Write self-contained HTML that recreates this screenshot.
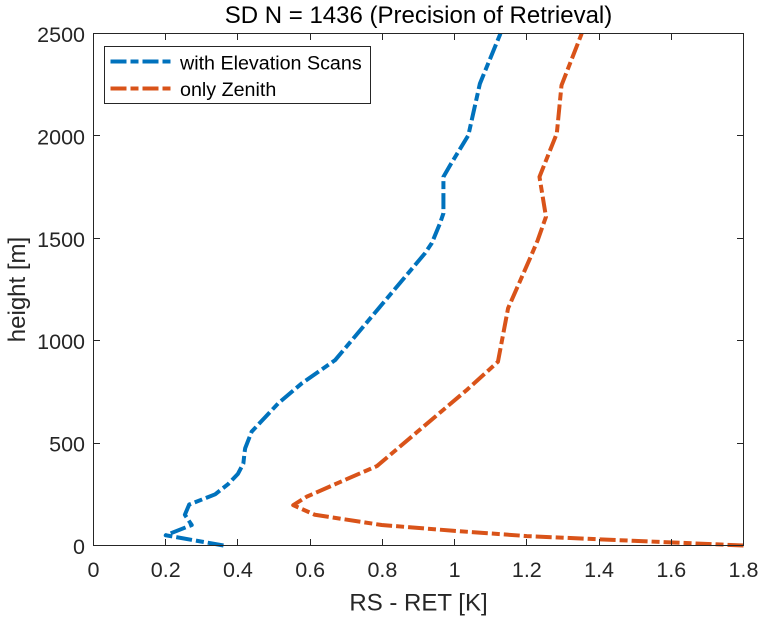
<!DOCTYPE html>
<html>
<head>
<meta charset="utf-8">
<style>
html,body{margin:0;padding:0;background:#fff;}
svg{display:block;font-family:"Liberation Sans",sans-serif;}
</style>
</head>
<body>
<svg id="chart" width="766" height="622" viewBox="0 0 766 622" xmlns="http://www.w3.org/2000/svg">
<rect width="766" height="622" fill="#fff"/>
<g id="series"></g>
<g id="axes"></g>
<text x="418.5" y="23" text-anchor="middle" font-size="24" fill="#000">SD N = 1436 (Precision of Retrieval)</text>
<text x="418.5" y="610.5" text-anchor="middle" font-size="24" fill="#262626">RS - RET [K]</text>
<text transform="translate(25,289.5) rotate(-90)" text-anchor="middle" font-size="24" fill="#262626">height [m]</text>
<g>
<rect x="104.5" y="46.5" width="266" height="57" fill="#fff" stroke="#262626" stroke-width="1"/>
<line x1="110.5" y1="61.5" x2="170.5" y2="61.5" stroke="#0072BD" stroke-width="4" stroke-dasharray="16 4 8 4"/>
<text x="180" y="69.5" font-size="19.7" fill="#000">with Elevation Scans</text>
<line x1="110.5" y1="88.5" x2="170.5" y2="88.5" stroke="#D95319" stroke-width="4" stroke-dasharray="16 4 8 4"/>
<text x="180" y="96" font-size="19.7" fill="#000">only Zenith</text>
</g>
</svg>
<script>
const xTicks = [0, 0.2, 0.4, 0.6, 0.8, 1, 1.2, 1.4, 1.6, 1.8];
const yTicks = [0, 500, 1000, 1500, 2000, 2500];
const elevationHeights = [0, 50, 100, 150, 200, 250, 300, 350, 400, 450, 475, 556, 695, 792, 905, 1427, 1477, 1575, 1622, 1800, 1858, 2003, 2255, 2500];
const elevationValues = [0.36, 0.2, 0.272, 0.253, 0.265, 0.337, 0.373, 0.4, 0.415, 0.418, 0.42, 0.438, 0.512, 0.577, 0.669, 0.918, 0.937, 0.96, 0.969, 0.969, 0.988, 1.038, 1.07, 1.127];
const zenithHeights = [0, 30, 46, 72, 100, 150, 197, 238, 300, 388, 760, 897, 1158, 1403, 1490, 1605, 1800, 2012, 2247, 2500];
const zenithValues = [1.8, 1.403, 1.2, 0.996, 0.798, 0.613, 0.553, 0.59, 0.67, 0.785, 1.034, 1.12, 1.148, 1.209, 1.23, 1.253, 1.235, 1.283, 1.296, 1.352];

const NS = 'http://www.w3.org/2000/svg';
const plotLeft = 93.5, plotRight = 743.5, plotTop = 33.5, plotBottom = 545.5;
const xMax = 1.8, yMax = 2500;
function xScale(v) { return plotLeft + v / xMax * (plotRight - plotLeft); }
function yScale(v) { return plotBottom - v / yMax * (plotBottom - plotTop); }
function make(tag, parent, attrs) {
  const el = document.createElementNS(NS, tag);
  for (const k in attrs) el.setAttribute(k, attrs[k]);
  parent.appendChild(el);
  return el;
}
const axes = document.getElementById('axes');
const seriesGroup = document.getElementById('series');
const frame = make('rect', axes, {x: plotLeft, y: plotTop, width: plotRight - plotLeft, height: plotBottom - plotTop, fill: 'none', stroke: '#262626', 'stroke-width': 1});


const tickLen = 6.5;
xTicks.forEach(function (t) {
  const x = Math.round(xScale(t) - 0.5) + 0.5;
  const bottomTick = make('line', axes, {x1: x, x2: x, y1: plotBottom, y2: plotBottom - tickLen, stroke: '#262626', 'stroke-width': 1});
  
  
  const topTick = make('line', axes, {x1: x, x2: x, y1: plotTop, y2: plotTop + tickLen, stroke: '#262626', 'stroke-width': 1});
  
  
  const label = make('text', axes, {x: xScale(t), y: 577, 'text-anchor': 'middle', 'font-size': 21.5, fill: '#262626'});
  
  
  label.textContent = String(t);
});
yTicks.forEach(function (t) {
  const y = Math.round(yScale(t) - 0.5) + 0.5;
  const leftTick = make('line', axes, {x1: plotLeft, x2: plotLeft + tickLen, y1: y, y2: y, stroke: '#262626', 'stroke-width': 1});
  
  
  const rightTick = make('line', axes, {x1: plotRight, x2: plotRight - tickLen, y1: y, y2: y, stroke: '#262626', 'stroke-width': 1});
  
  
  const label = make('text', axes, {x: 85, y: yScale(t) + 8.5, 'text-anchor': 'end', 'font-size': 21.5, fill: '#262626'});
  
  
  label.textContent = String(t);
});
function buildPath(values, heights) {
  return values.map(function (v, i) {
    return (i ? 'L' : 'M') + xScale(v).toFixed(2) + ' ' + yScale(heights[i]).toFixed(2);
  }).join(' ');
}
const elevationLine = make('path', seriesGroup, {d: buildPath(elevationValues, elevationHeights), fill: 'none', stroke: '#0072BD', 'stroke-width': 4, 'stroke-dasharray': '16 4 8 4', 'stroke-linejoin': 'round'});


const zenithLine = make('path', seriesGroup, {d: buildPath(zenithValues, zenithHeights), fill: 'none', stroke: '#D95319', 'stroke-width': 4, 'stroke-dasharray': '16 4 8 4', 'stroke-linejoin': 'round'});


</script>
</body>
</html>
